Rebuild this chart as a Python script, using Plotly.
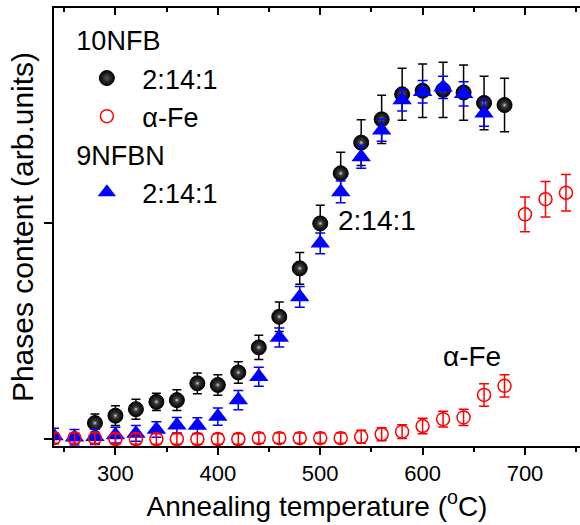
import plotly.graph_objects as go

# ---- data ----
temps_black = [280, 300, 320, 340, 360, 380, 400, 420, 440, 460, 480, 500, 520, 540, 560, 580, 600, 620, 640, 660, 680]
black_214 = [0.037, 0.054, 0.069, 0.086, 0.090, 0.129, 0.125, 0.154, 0.212, 0.283, 0.395, 0.499, 0.615, 0.686, 0.740, 0.798, 0.806, 0.808, 0.802, 0.778, 0.773]
black_err = [0.021, 0.023, 0.023, 0.020, 0.024, 0.024, 0.024, 0.025, 0.028, 0.034, 0.037, 0.042, 0.049, 0.053, 0.056, 0.060, 0.062, 0.064, 0.064, 0.062, 0.062]

temps_blue = [240, 260, 280, 300, 320, 340, 360, 380, 400, 420, 440, 460, 480, 500, 520, 540, 560, 580, 600, 620, 640, 660]
blue_214 = [0.007, 0.004, 0.005, 0.009, 0.013, 0.022, 0.032, 0.031, 0.052, 0.090, 0.144, 0.235, 0.329, 0.453, 0.572, 0.653, 0.715, 0.785, 0.804, 0.814, 0.799, 0.754]
blue_err = [0.018, 0.018, 0.018, 0.018, 0.018, 0.018, 0.018, 0.018, 0.020, 0.022, 0.022, 0.022, 0.024, 0.024, 0.025, 0.026, 0.026, 0.026, 0.026, 0.026, 0.028, 0.030]

temps_red = [240, 260, 280, 300, 320, 340, 360, 380, 400, 420, 440, 460, 480, 500, 520, 540, 560, 580, 600, 620, 640, 660, 680]
red_fe = [0.002, 0.002, 0.002, 0.0, 0.0, 0.0, 0.0, 0.0, 0.0, 0.0, 0.002, 0.002, 0.002, 0.002, 0.002, 0.005, 0.011, 0.017, 0.030, 0.046, 0.050, 0.102, 0.123]
red_err = [0.012, 0.012, 0.012, 0.012, 0.012, 0.012, 0.012, 0.012, 0.012, 0.012, 0.012, 0.012, 0.012, 0.012, 0.012, 0.015, 0.015, 0.016, 0.018, 0.018, 0.019, 0.026, 0.026]

temps_red_hi = [700, 720, 740]
red_hi = [0.520, 0.555, 0.570]
red_hi_err = [0.040, 0.041, 0.042]

x_ticks = [300, 400, 500, 600, 700]
x_labels = ["300", "400", "500", "600", "700"]

FONT = "Liberation Sans, Arial, sans-serif"
LEG = 27

fig = go.Figure()

fig.add_trace(go.Scatter(
    x=temps_black, y=black_214, mode="markers", name="2:14:1",
    legendgroup="a", legendgrouptitle=dict(text="10NFB", font=dict(size=LEG, family=FONT, color="black")),
    legendrank=1,
    marker=dict(symbol="circle", size=15, color="black",
                gradient=dict(type="radial", color="#555555"),
                line=dict(color="black", width=1)),
    error_y=dict(type="data", array=black_err, color="black", thickness=1.5, width=4.5),
))
# sphere highlight (same data points)
fig.add_trace(go.Scatter(
    x=temps_black, y=black_214, mode="markers", showlegend=False, hoverinfo="skip",
    marker=dict(symbol="circle", size=7, color="rgba(0,0,0,0)",
                gradient=dict(type="radial", color="#e8e8e8"), line=dict(width=0)),
))

fig.add_trace(go.Scatter(
    x=temps_blue, y=blue_214, mode="markers", name="2:14:1",
    legendgroup="b", legendgrouptitle=dict(text="9NFBN", font=dict(size=LEG, family=FONT, color="black")),
    legendrank=3,
    marker=dict(symbol="triangle-up", size=17, color="#0000ff", line=dict(width=0)),
    error_y=dict(type="data", array=blue_err, color="#0000ff", thickness=1.5, width=5),
))

fig.add_trace(go.Scatter(
    x=temps_red, y=red_fe, mode="markers", name="α-Fe",
    legendgroup="a", legendrank=2,
    marker=dict(symbol="circle-open", size=13, color="#ff0000", line=dict(color="#ff0000", width=1.5)),
    error_y=dict(type="data", array=red_err, color="#ff0000", thickness=1.5, width=5),
))

fig.add_trace(go.Scatter(
    x=temps_red_hi, y=red_hi, mode="markers", showlegend=False,
    marker=dict(symbol="circle-open", size=13, color="#ff0000", line=dict(color="#ff0000", width=1.5)),
    error_y=dict(type="data", array=red_hi_err, color="#ff0000", thickness=1.5, width=5),
))

# invisible trace to activate the top axis
fig.add_trace(go.Scatter(
    x=temps_black, y=black_214, xaxis="x2", mode="markers", showlegend=False,
    marker=dict(opacity=0), hoverinfo="skip",
))

XR = [240, 753.7]
YR = [-0.0162, 0.9977]

fig.update_layout(
    width=580, height=525,
    margin=dict(l=53.5, r=0, t=8, b=79),
    paper_bgcolor="white", plot_bgcolor="white",
    font=dict(family=FONT, size=22, color="black"),
    showlegend=True,
    legend=dict(x=0.033, y=0.982, xanchor="left", yanchor="top",
                font=dict(size=LEG, family=FONT), tracegroupgap=0,
                bgcolor="rgba(0,0,0,0)", itemwidth=61),
    xaxis=dict(range=XR, showline=True, linecolor="black", linewidth=2,
               tickvals=x_ticks, ticktext=x_labels, ticks="outside", ticklen=7, tickwidth=2,
               tickcolor="black", tickfont=dict(size=22),
               minor=dict(dtick=50, tick0=250, ticks="outside", ticklen=4, tickwidth=2, tickcolor="black"),
               showgrid=False, zeroline=False, mirror=False,
               title=dict(text="Annealing temperature (<sup>o</sup>C)", font=dict(size=28), standoff=8)),
    xaxis2=dict(range=XR, overlaying="x", side="top", anchor="y", showline=True, linecolor="black",
                linewidth=2, tickvals=x_ticks, ticks="inside", ticklen=7, tickwidth=2, tickcolor="black",
                showticklabels=False,
                minor=dict(dtick=50, tick0=250, ticks="inside", ticklen=4, tickwidth=2, tickcolor="black"),
                showgrid=False, zeroline=False),
    yaxis=dict(range=YR, showline=True, linecolor="black", linewidth=2,
               tickvals=[0, 0.5, 1.0], ticks="outside", ticklen=8, tickwidth=2, tickcolor="black",
               showticklabels=False, showgrid=False, zeroline=False, mirror=False,
               title=dict(text="Phases content (arb.units)", font=dict(size=30), standoff=2)),
    annotations=[
        dict(x=555, y=0.505, xref="x", yref="y", text="2:14:1", showarrow=False,
             font=dict(size=28, family=FONT, color="black")),
        dict(x=648, y=0.19, xref="x", yref="y", text="α-Fe", showarrow=False,
             font=dict(size=28, family=FONT, color="black")),
    ],
)

fig.write_html("out.html")
